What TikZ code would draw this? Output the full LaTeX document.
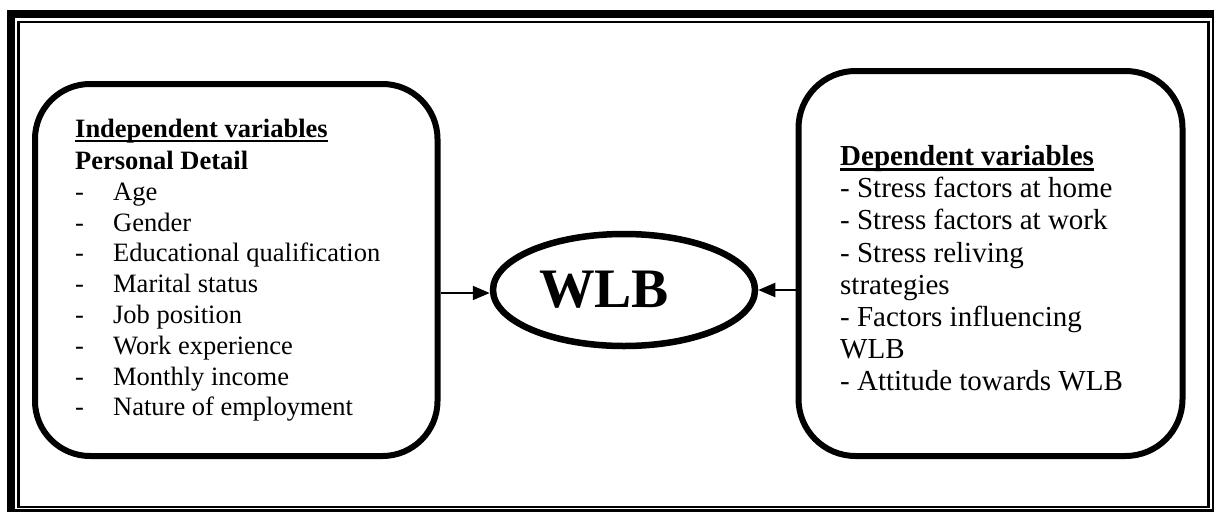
\documentclass[tikz,border=0pt]{standalone}
\usepackage{fontspec}
\setmainfont{Liberation Serif}
\usetikzlibrary{arrows.meta,shapes.geometric}
\newcommand\myul[2][2pt]{\leavevmode\setbox0\hbox{#2}\rlap{\rule[-5pt]{\wd0}{#1}}\box0}
\tikzset{
  roundbox/.style={draw=black, line width=6pt, rectangle, inner sep=0pt},
  ellbox/.style={draw=black, line width=6.5pt, ellipse, inner sep=0pt,
    minimum width=262pt, minimum height=112pt, font=\fontsize{55.7pt}{60pt}\selectfont\bfseries},
  arr/.style={line width=2pt, -{Triangle[length=17pt,width=14pt]}},
  txt/.style={anchor=base west, inner sep=0pt},
}
\begin{document}
\begin{tikzpicture}[x=1pt,y=-1pt]
\useasboundingbox (0,0) rectangle (1214,514);
% page border
\fill[black] (7,10) rectangle (15,511.7);
\fill[black] (7,10) rectangle (1214,18);
\fill[black] (1211.8,10) rectangle (1214,511.7);
\fill[black] (7,509.4) rectangle (1214,511.7);
\draw[line width=2.5pt] (18.5,22.2) rectangle (1208.6,507.2);
% boxes
\node[roundbox, rounded corners=55pt, minimum width=402.5pt, minimum height=372pt] (lbox) at (236.25,270) {};
\node[roundbox, rounded corners=57pt, minimum width=384pt, minimum height=385pt] (rbox) at (990.5,263.5) {};
\node[ellbox] (ell) at (624,290) {WLB\hspace*{40pt}};
% texts
\node[txt] (ltext) at (75,137) {\begin{minipage}[t]{360pt}\fontsize{26.5pt}{30.8pt}\selectfont
\myul[2.3pt]{\textbf{Independent variables}}\\[1.7pt]
\textbf{Personal Detail}\\
\makebox[38pt][l]{-}Age\\
\makebox[38pt][l]{-}Gender\\
\makebox[38pt][l]{-}Educational qualification\\
\makebox[38pt][l]{-}Marital status\\
\makebox[38pt][l]{-}Job position\\
\makebox[38pt][l]{-}Work experience\\
\makebox[38pt][l]{-}Monthly income\\
\makebox[38pt][l]{-}Nature of employment
\end{minipage}};
\node[txt] (rtext) at (840,165.5) {\begin{minipage}[t]{330pt}\fontsize{29pt}{32.2pt}\selectfont
\myul[2.5pt]{\textbf{Dependent variables}}\\
- Stress factors at home\\
- Stress factors at work\\
- Stress reliving\\
strategies\\
- Factors influencing\\
WLB\\
- Attitude towards WLB
\end{minipage}};
% arrows
\draw[arr] ([yshift=-3pt]ell.west -| lbox.east) -- ([yshift=-3pt]ell.west);
\draw[arr] (ell.east -| rbox.west) -- (ell.east);
\end{tikzpicture}
\end{document}
